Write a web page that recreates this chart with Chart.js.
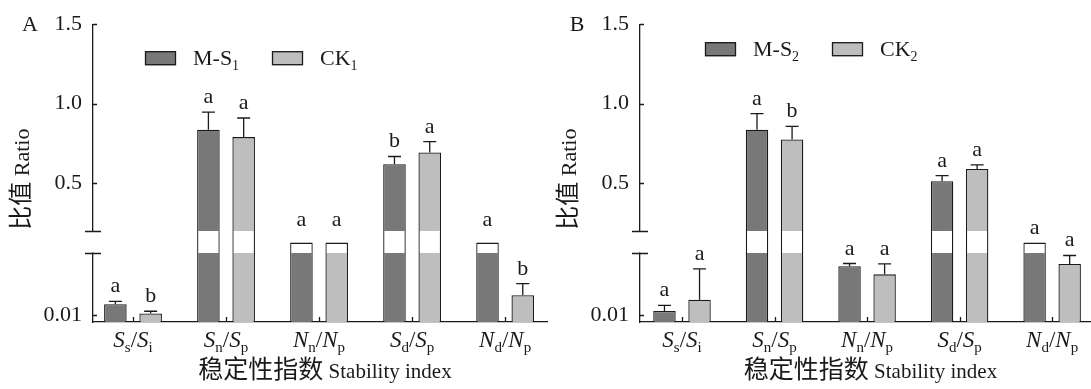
<!DOCTYPE html>
<html>
<head>
<meta charset="utf-8">
<script src="https://cdn.jsdelivr.net/npm/chart.js@4.4.0/dist/chart.umd.min.js"></script>
<style>
  html, body { margin: 0; padding: 0; background: #fff; }
  #wrap { position: relative; width: 1091px; height: 389px; }
  canvas { position: absolute; top: 0; }
  #chartA { left: 0; }
  #chartB { left: 548px; }
</style>
</head>
<body>
<div id="wrap">
  <canvas id="chartA" width="548" height="389"></canvas>
  <canvas id="chartB" width="543" height="389"></canvas>
</div>
<script>
// categories and tick labels
const categories = ['S_s/S_i', 'S_n/S_p', 'N_n/N_p', 'S_d/S_p', 'N_d/N_p'];
const yTicks = [0.01, 0.5, 1.0, 1.5];

// panel A
const msA = [0.026, 0.836, 0.148, 0.619, 0.148];
const msAErr = [0.004, 0.111, 0.035, 0.049, 0.035];
const msALetters = ['a', 'a', 'a', 'b', 'a'];
const ckA = [0.0124, 0.790, 0.148, 0.693, 0.039];
const ckAErr = [0.0033, 0.120, 0.035, 0.068, 0.017];
const ckALetters = ['b', 'a', 'a', 'a', 'b'];

// panel B
const msB = [0.0162, 0.836, 0.0814, 0.512, 0.148];
const msBErr = [0.0081, 0.101, 0.0039, 0.035, 0];
const msBLetters = ['a', 'a', 'a', 'a', 'a'];
const ckB = [0.0324, 0.775, 0.0695, 0.590, 0.0847];
const ckBErr = [0.0452, 0.082, 0.0152, 0.025, 0.0123];
const ckBLetters = ['a', 'b', 'a', 'a', 'a'];

const SERIF = '"Liberation Serif", "Noto Sans CJK SC", serif';
const CJK = '"Noto Sans CJK SC", sans-serif';
const INK = '#1a1a1a';
const DARK = '#787878';
const LIGHT = '#bebebe';

// broken y axis: 0-0.1 below the break, 0.2-1.5 above it
const AXIS_SEGMENTS = { values: [0, 0.1, 0.2, 1.5], share: [0, 70 / 304, 93 / 304, 1] };

function toDecimal(v) {
  const { values, share } = AXIS_SEGMENTS;
  if (v <= values[0]) return share[0];
  for (let i = 1; i < values.length; i++) {
    if (v <= values[i]) {
      const t = (v - values[i - 1]) / (values[i] - values[i - 1]);
      return share[i - 1] + t * (share[i] - share[i - 1]);
    }
  }
  const n = values.length - 1;
  return share[n] + (v - values[n]) * (share[n] - share[n - 1]) / (values[n] - values[n - 1]);
}

function fromDecimal(d) {
  const { values, share } = AXIS_SEGMENTS;
  for (let i = 1; i < share.length; i++) {
    if (d <= share[i]) {
      const t = (d - share[i - 1]) / (share[i] - share[i - 1]);
      return values[i - 1] + t * (values[i] - values[i - 1]);
    }
  }
  return values[values.length - 1];
}

class BrokenScale extends Chart.LinearScale {
  getPixelForValue(value) {
    return this.getPixelForDecimal(toDecimal(value));
  }
  getValueForPixel(pixel) {
    return fromDecimal(this.getDecimalForPixel(pixel));
  }
}
BrokenScale.id = 'broken';
BrokenScale.defaults = Chart.LinearScale.defaults;
Chart.register(BrokenScale);

function bandFill(chart, color) {
  const area = chart.chartArea;
  const y = chart.scales.y;
  if (!area || !y) return color;
  const lo = y.getPixelForValue(AXIS_SEGMENTS.values[1]);
  const hi = y.getPixelForValue(AXIS_SEGMENTS.values[2]);
  const h = area.bottom - area.top;
  const f1 = (area.bottom - lo) / h;
  const f2 = (area.bottom - hi) / h;
  const g = chart.ctx.createLinearGradient(0, area.bottom, 0, area.top);
  g.addColorStop(0, color);
  g.addColorStop(f1, color);
  g.addColorStop(f1, '#ffffff');
  g.addColorStop(f2, '#ffffff');
  g.addColorStop(f2, color);
  g.addColorStop(1, color);
  return g;
}

// text with subscripts, e.g. "S_s/S_i" or "M-S_1"
function drawRich(ctx, parts, x, baseline, align) {
  let total = 0;
  parts.forEach((p) => {
    ctx.font = p.font;
    p.w = ctx.measureText(p.t).width;
    total += p.w;
  });
  let cx = align === 'center' ? x - total / 2 : x;
  ctx.textAlign = 'left';
  ctx.textBaseline = 'alphabetic';
  parts.forEach((p) => {
    ctx.font = p.font;
    ctx.fillText(p.t, cx, baseline + (p.dy || 0));
    cx += p.w;
  });
}

function categoryParts(label) {
  const m = label.match(/^(\w)_(\w)\/(\w)_(\w)$/);
  return [
    { t: m[1], font: 'italic 23px ' + SERIF },
    { t: m[2], font: '15px ' + SERIF, dy: 5 },
    { t: '/', font: '23px ' + SERIF },
    { t: m[3], font: 'italic 23px ' + SERIF },
    { t: m[4], font: '15px ' + SERIF, dy: 5 },
  ];
}

function nameParts(name) {
  const [main, sub] = name.split('_');
  return [
    { t: main, font: '22px ' + SERIF },
    { t: sub, font: '14px ' + SERIF, dy: 5 },
  ];
}

function decor(p) {
  return {
    id: 'decor',
    afterDraw(chart) {
      const { ctx, chartArea: a } = chart;
      const x = chart.scales.x;
      const y = chart.scales.y;
      const bandTop = y.getPixelForValue(AXIS_SEGMENTS.values[2]);
      const bandBottom = y.getPixelForValue(AXIS_SEGMENTS.values[1]);
      ctx.save();
      ctx.strokeStyle = INK;
      ctx.fillStyle = INK;
      ctx.lineWidth = 1.3;

      // error bars (hidden inside the break) and significance letters
      p.series.forEach((s, k) => {
        const meta = chart.getDatasetMeta(k);
        meta.data.forEach((bar, i) => {
          const capY = y.getPixelForValue(s.values[i] + s.errors[i]);
          if (s.errors[i] > 0) {
            ctx.save();
            ctx.beginPath();
            ctx.rect(a.left, 0, a.right - a.left, bandTop);
            ctx.rect(a.left, bandBottom, a.right - a.left, a.bottom - bandBottom);
            ctx.clip();
            ctx.beginPath();
            ctx.moveTo(bar.x, bar.y);
            ctx.lineTo(bar.x, capY);
            ctx.moveTo(bar.x - 6.5, capY);
            ctx.lineTo(bar.x + 6.5, capY);
            ctx.stroke();
            ctx.restore();
          }
          ctx.font = '22px ' + SERIF;
          ctx.textAlign = 'center';
          ctx.textBaseline = 'alphabetic';
          ctx.fillText(s.letters[i], bar.x, capY - 9);
        });
      });

      // inner ticks on both axes
      ctx.beginPath();
      categories.forEach((c, i) => {
        const px = Math.round(x.getPixelForValue(i)) + 0.5;
        ctx.moveTo(px, a.bottom);
        ctx.lineTo(px, a.bottom - 5);
      });
      yTicks.forEach((v) => {
        const py = Math.round(y.getPixelForValue(v)) + 0.5;
        ctx.moveTo(a.left, py);
        ctx.lineTo(a.left + 4, py);
      });
      ctx.stroke();

      // axis break
      ctx.fillStyle = '#ffffff';
      ctx.fillRect(a.left - 3, bandTop + 1, 6, bandBottom - bandTop - 2);
      ctx.fillStyle = INK;
      ctx.beginPath();
      [bandTop, bandBottom].forEach((py) => {
        const yy = Math.round(py) + 0.5;
        ctx.moveTo(a.left - 8, yy);
        ctx.lineTo(a.left + 8, yy);
      });
      ctx.stroke();

      // legend
      p.series.forEach((s, k) => {
        const bx = a.left + p.legendX + k * 127;
        const by = a.top + p.legendY;
        ctx.fillStyle = s.color;
        ctx.fillRect(bx, by, 31, 14);
        ctx.strokeRect(bx + 0.5, by + 0.5, 30, 13);
        ctx.fillStyle = INK;
        drawRich(ctx, nameParts(s.name), bx + 48, by + 14, 'left');
      });

      // category labels
      categories.forEach((c, i) => {
        drawRich(ctx, categoryParts(c), x.getPixelForValue(i), 347, 'center');
      });

      // x title
      const xt = [
        { t: '稳定性指数', font: '25px ' + CJK },
        { t: ' Stability index', font: '21px ' + SERIF },
      ];
      drawRich(ctx, xt, (a.left + a.right) / 2 + 5, 378, 'center');

      // y title
      ctx.save();
      ctx.translate(a.left - 64, (a.top + a.bottom) / 2 + 6);
      ctx.rotate(-Math.PI / 2);
      drawRich(ctx, [
        { t: '比值', font: '24px ' + CJK },
        { t: ' Ratio', font: '22px ' + SERIF },
      ], 0, 0, 'center');
      ctx.restore();

      // panel letter
      ctx.font = '22px ' + SERIF;
      ctx.textAlign = 'center';
      ctx.textBaseline = 'middle';
      ctx.fillText(p.tag, a.left - 63, a.top + 1);
      ctx.restore();
    },
  };
}

function makePanel(id, p) {
  return new Chart(document.getElementById(id), {
    type: 'bar',
    data: {
      datasets: p.series.map((s) => ({
        label: s.name.replace('_', ''),
        data: categories.map((c, i) => ({ x: i, y: s.values[i] })),
        backgroundColor: (c) => bandFill(c.chart, s.color),
        borderColor: INK,
        borderWidth: 1.3,
        categoryPercentage: 0.758,
        barPercentage: 0.64,
      })),
    },
    options: {
      responsive: false,
      animation: false,
      layout: { padding: { left: 0, right: p.padRight, top: 18, bottom: 0 } },
      plugins: { legend: { display: false }, tooltip: { enabled: false } },
      scales: {
        x: {
          type: 'linear',
          min: p.xMin,
          max: p.xMax,
          offset: false,
          grid: { display: false },
          border: { display: true, color: INK, width: 1.3 },
          ticks: { display: false },
          // one tick per category so bar widths follow the category spacing
          afterBuildTicks: (s) => { s.ticks = categories.map((c, i) => ({ value: i })); },
          afterFit: (s) => { s.height = 67; },
        },
        y: {
          type: 'broken',
          min: 0,
          max: 1.5,
          grid: { display: false, drawTicks: false },
          border: { display: true, color: INK, width: 1.3 },
          ticks: {
            color: INK,
            padding: 11,
            font: { family: SERIF, size: 22 },
            callback: (v) => (v < 0.1 ? String(v) : v.toFixed(1)),
          },
          afterBuildTicks: (s) => { s.ticks = yTicks.map((v) => ({ value: v })); },
          afterFit: (s) => { s.width = p.axisLeft; },
        },
      },
    },
    plugins: [decor(p)],
  });
}

const panelA = {
  tag: 'A', axisLeft: 93, padRight: 1, xMin: -0.43, xMax: 4.45, legendX: 52, legendY: 27,
  series: [
    { name: 'M-S_1', values: msA, errors: msAErr, letters: msALetters, color: DARK },
    { name: 'CK_1', values: ckA, errors: ckAErr, letters: ckALetters, color: LIGHT },
  ],
};
const panelB = {
  tag: 'B', axisLeft: 92, padRight: 0, xMin: -0.454, xMax: 4.42, legendX: 65, legendY: 18,
  series: [
    { name: 'M-S_2', values: msB, errors: msBErr, letters: msBLetters, color: DARK },
    { name: 'CK_2', values: ckB, errors: ckBErr, letters: ckBLetters, color: LIGHT },
  ],
};

makePanel('chartA', panelA);
makePanel('chartB', panelB);
</script>
</body>
</html>
